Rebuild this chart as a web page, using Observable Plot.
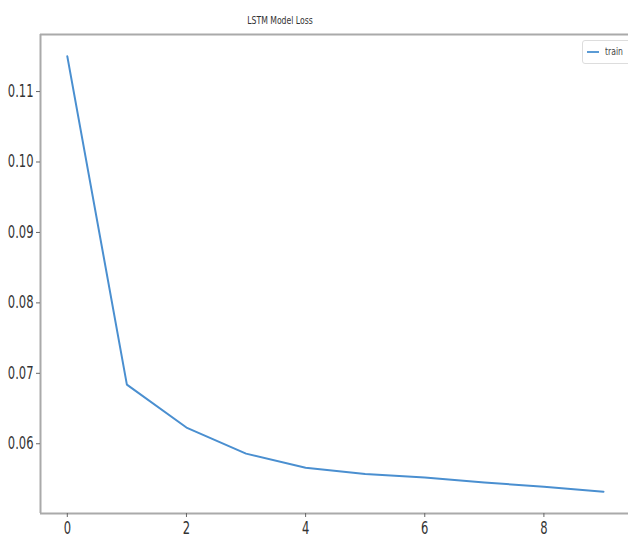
<!DOCTYPE html>
<html>
<head>
<meta charset="utf-8">
<script src="https://cdn.jsdelivr.net/npm/d3@7"></script>
<script src="https://cdn.jsdelivr.net/npm/@observablehq/plot@0.6"></script>
<style>
  body { margin: 0; background: #fff; }
  #wrap { position: relative; width: 628px; height: 536px; overflow: hidden; }
  .cond { font-family: "DejaVu Sans", sans-serif; }
  #title { position: absolute; top: 14px; left: 230px; width: 100px; text-align: center; font-size: 11px; color: #333; transform: scaleX(0.7); }
  #legend { position: absolute; top: 40px; left: 582px; width: 60px; height: 22px; border: 1px solid #ddd; border-radius: 3px; background: #fff; color: #444; }
  #legend .sw { position: absolute; left: 4px; top: 10px; width: 12px; height: 2px; background: #5b9bd5; }
  #legend .lb { position: absolute; left: 22px; top: 4px; font-size: 11px; transform: scaleX(0.7); transform-origin: left center; }
</style>
</head>
<body>
<div id="wrap">
  <div id="chart"></div>
  <div id="title" class="cond">LSTM Model Loss</div>
  <div id="legend" class="cond"><div class="sw"></div><div class="lb">train</div></div>
</div>
<script>
const epochs = [0, 1, 2, 3, 4, 5, 6, 7, 8, 9];
const trainLoss = [0.1150, 0.0684, 0.0623, 0.0586, 0.0566, 0.0557, 0.0552, 0.0545, 0.0539, 0.0532];
const xTicks = [0, 2, 4, 6, 8];
const yTicks = [0.06, 0.07, 0.08, 0.09, 0.10, 0.11];

const data = epochs.map((e, i) => ({epoch: e, loss: trainLoss[i]}));
const xDom = [-0.45, 9.42];
const yDom = [0.0501, 0.1181];

const chart = Plot.plot({
  width: 628,
  height: 536,
  marginLeft: 40,
  marginTop: 34,
  marginBottom: 23,
  marginRight: 0,
  style: {fontFamily: '"DejaVu Sans", sans-serif', color: "#333", background: "#fff"},
  x: {domain: xDom},
  y: {domain: yDom},
  marks: [
    Plot.ruleX([xDom[0]], {stroke: "#aaa", strokeWidth: 2}),
    Plot.ruleY([yDom[0], yDom[1]], {stroke: "#aaa", strokeWidth: 2}),
    Plot.axisX({ticks: xTicks, tickSize: 4, tickPadding: 4, fontSize: 17, label: null, stroke: "#666"}),
    Plot.axisY({ticks: yTicks, tickSize: 4, tickPadding: 3, fontSize: 17, tickFormat: ".2f", label: null, stroke: "#666"}),
    Plot.lineY(data, {x: "epoch", y: "loss", stroke: "#4a8fd0", strokeWidth: 2})
  ]
});
// condense tick label glyphs horizontally, like the squeezed reference image
chart.querySelectorAll("text").forEach(t => {
  const tr = t.getAttribute("transform") || "";
  t.setAttribute("transform", tr + " scale(0.68,1)");
});
document.getElementById("chart").appendChild(chart);
</script>
</body>
</html>
